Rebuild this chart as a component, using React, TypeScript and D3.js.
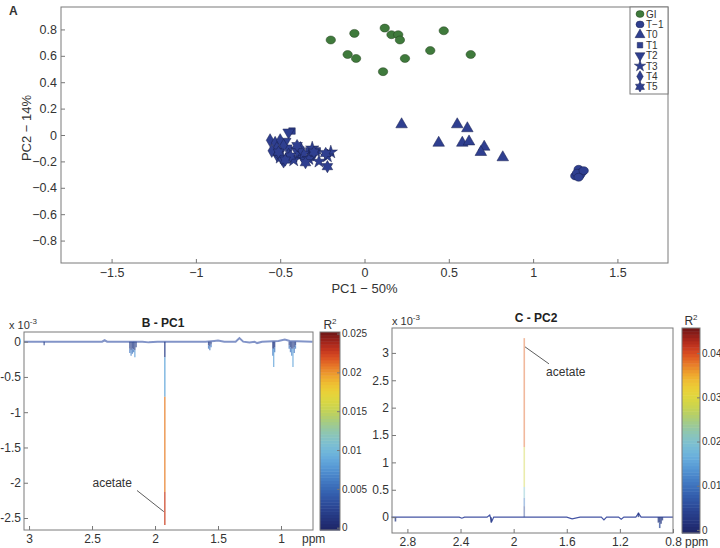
import { useEffect, useRef } from 'react';
import * as d3 from 'd3';

const W = 720;
const H = 548;
const FONT = '"Liberation Sans", Arial, Helvetica, sans-serif';

// ---- panel A: PCA scores (PC1, PC2) ----
const gi: [number, number][] = [
  [-0.2, 0.72], [-0.06, 0.77], [-0.1, 0.61], [-0.05, 0.58], [0.12, 0.81], [0.16, 0.76],
  [0.2, 0.76], [0.21, 0.72], [0.47, 0.79], [0.39, 0.64], [0.63, 0.61], [0.24, 0.58], [0.11, 0.48],
];
const tMinus1: [number, number][] = [
  [1.25, -0.31], [1.27, -0.26], [1.29, -0.28], [1.28, -0.3], [1.26, -0.29], [1.3, -0.27], [1.27, -0.32],
];
const t0: [number, number][] = [
  [0.22, 0.08], [0.55, 0.08], [0.61, 0.05], [0.44, -0.06], [0.58, -0.06], [0.62, -0.05],
  [0.71, -0.09], [0.69, -0.13], [0.82, -0.17],
];
const t1: [number, number][] = [
  [-0.43, 0.03], [-0.28, -0.12], [-0.35, -0.2], [-0.32, -0.17], [-0.45, -0.1], [-0.38, -0.15],
  [-0.5, -0.12], [-0.42, -0.18], [-0.33, -0.12],
];
const t2: [number, number][] = [
  [-0.45, 0.02], [-0.47, -0.05], [-0.52, -0.15], [-0.4, -0.12], [-0.36, -0.18], [-0.48, -0.2], [-0.3, -0.14],
];
const t3: [number, number][] = [
  [-0.2, -0.13], [-0.22, -0.16], [-0.31, -0.1], [-0.36, -0.14], [-0.27, -0.2], [-0.33, -0.18],
  [-0.5, -0.17], [-0.42, -0.19],
];
const t4: [number, number][] = [
  [-0.56, -0.04], [-0.53, -0.06], [-0.5, -0.04], [-0.52, -0.1], [-0.48, -0.08], [-0.45, -0.15],
  [-0.55, -0.12], [-0.49, -0.18], [-0.38, -0.1],
];
const t5: [number, number][] = [
  [-0.22, -0.24], [-0.23, -0.14], [-0.51, -0.13], [-0.4, -0.08], [-0.44, -0.16], [-0.35, -0.21],
  [-0.3, -0.13], [-0.47, -0.19],
];
const groupLabels = ['GI', 'T\u22121', 'T0', 'T1', 'T2', 'T3', 'T4', 'T5'];
const groupPoints = [gi, tMinus1, t0, t1, t2, t3, t4, t5];

const aXTicks = [-1.5, -1, -0.5, 0, 0.5, 1, 1.5];
const aYTicks = [-0.8, -0.6, -0.4, -0.2, 0, 0.2, 0.4, 0.6, 0.8];

// ---- panel B: PC1 loadings (x 10^-3) ----
const baseBPpm = [3.04, 2.42, 2.4, 2.38, 2.1, 2.05, 1.98, 1.75, 1.6, 1.53, 1.5, 1.45, 1.36, 1.33, 1.3, 1.25, 1.21, 1.19, 1.15, 1.02, 0.97, 0.93, 0.75];
const baseBVal = [0, 0, 0.02, 0, 0, -0.01, 0, 0, 0, 0.01, 0.015, 0, 0, 0.05, 0, -0.01, 0, -0.02, 0, 0.01, 0.03, 0.01, 0];
// stems: ppm, levels going away from baseline, r2 of each segment
const stemsB = [
  { ppm: 2.88, levels: [0, -0.05], r2: [0.002] },
  { ppm: 2.2, levels: [0, -0.1, -0.16], r2: [0.002, 0.006] },
  { ppm: 2.19, levels: [0, -0.12, -0.2], r2: [0.002, 0.007] },
  { ppm: 2.18, levels: [0, -0.1, -0.17], r2: [0.002, 0.006] },
  { ppm: 2.17, levels: [0, -0.11, -0.15], r2: [0.002, 0.006] },
  { ppm: 2.16, levels: [0, -0.12, -0.22], r2: [0.002, 0.008] },
  { ppm: 2.15, levels: [0, -0.08], r2: [0.002] },
  { ppm: 1.575, levels: [0, -0.05, -0.1], r2: [0.002, 0.006] },
  { ppm: 1.565, levels: [0, -0.06, -0.12], r2: [0.002, 0.006] },
  { ppm: 1.555, levels: [0, -0.04, -0.08], r2: [0.002, 0.006] },
  { ppm: 1.065, levels: [0, -0.1, -0.2], r2: [0.002, 0.006] },
  { ppm: 1.058, levels: [0, -0.1, -0.36], r2: [0.002, 0.0085] },
  { ppm: 1.05, levels: [0, -0.08, -0.15], r2: [0.002, 0.006] },
  { ppm: 0.935, levels: [0, -0.05, -0.1], r2: [0.002, 0.006] },
  { ppm: 0.925, levels: [0, -0.08, -0.15], r2: [0.002, 0.006] },
  { ppm: 0.915, levels: [0, -0.1, -0.2], r2: [0.002, 0.007] },
  { ppm: 0.905, levels: [0, -0.1, -0.36], r2: [0.002, 0.0085] },
  { ppm: 0.895, levels: [0, -0.08, -0.16], r2: [0.002, 0.006] },
  { ppm: 0.885, levels: [0, -0.05, -0.1], r2: [0.002, 0.006] },
  { ppm: 1.922, levels: [0, -0.22, -0.78, -2.13, -2.6], r2: [0.002, 0.0088, 0.0205, 0.0228] },
];
const bXTicks = [3, 2.5, 2, 1.5, 1];
const bYTicks = [0, -0.5, -1, -1.5, -2, -2.5];
const bBarTicks = [0, 0.005, 0.01, 0.015, 0.02, 0.025];
// label ppm, label value, line start ppm/value, line end ppm/value
const annotB = [2.34, -2.06, 2.143, -2.11, 1.93, -2.41];

// ---- panel C: PC2 loadings (x 10^-3) ----
const baseCPpm = [2.92, 2.41, 2.39, 2.37, 2.2, 2.18, 2.165, 2.15, 2.1, 1.6, 1.56, 1.5, 1.34, 1.32, 1.3, 1.21, 1.19, 1.17, 1.08, 1.06, 1.04, 0.95, 0.8];
const baseCVal = [0, 0, -0.02, 0, 0, 0.04, -0.08, 0, 0, 0, -0.03, 0, 0, -0.05, 0, 0, -0.04, 0, 0, 0.07, 0, 0, 0];
const stemsC = [
  { ppm: 2.89, levels: [0, -0.08], r2: [0.003] },
  { ppm: 2.17, levels: [0, -0.1], r2: [0.003] },
  { ppm: 1.06, levels: [0, 0.08], r2: [0.003] },
  { ppm: 0.91, levels: [0, -0.1], r2: [0.003] },
  { ppm: 0.9, levels: [0, -0.1, -0.2], r2: [0.003, 0.006] },
  { ppm: 0.89, levels: [0, -0.12], r2: [0.003] },
  { ppm: 0.88, levels: [0, -0.06], r2: [0.003] },
  { ppm: 1.92, levels: [0, 0.2, 0.35, 0.55, 1.28, 3.27], r2: [0.005, 0.012, 0.02, 0.029, 0.039] },
];
const cXTicks = [2.8, 2.4, 2, 1.6, 1.2, 0.8];
const cYTicks = [0, 0.5, 1, 1.5, 2, 2.5, 3];
const cBarTicks = [0, 0.01, 0.02, 0.03, 0.04];
const annotC = [1.756, 2.58, 1.914, 3.11, 1.734, 2.8];

const jetStops = ['#1e2566', '#283f8e', '#3564b4', '#4f90d2', '#74bde4', '#8cc6b4', '#c2d24c', '#f2de36', '#ee962c', '#d8301f', '#6e1616'];
const cmap = d3.interpolateRgbBasis(jetStops);
const N_BANDS = 64;
const band = (t: number) => cmap((Math.min(N_BANDS - 1, Math.floor(Math.max(0, t) * N_BANDS)) + 0.5) / N_BANDS);

const BLUE = '#2f3f90';
const GREEN = '#3f7a3c';

const hexagram = {
  draw(ctx: any, size: number) {
    const r = Math.sqrt(size / 1.6);
    const ri = r * 0.58;
    for (let i = 0; i < 12; i++) {
      const a = (i * Math.PI) / 6;
      const rad = i % 2 ? ri : r;
      const px = rad * Math.sin(a);
      const py = -rad * Math.cos(a);
      if (i === 0) ctx.moveTo(px, py);
      else ctx.lineTo(px, py);
    }
    ctx.closePath();
  },
};

function styleAxis(ax: any, fs: number) {
  ax.select('.domain').remove();
  ax.attr('font-family', FONT).attr('font-size', fs);
  ax.selectAll('line').attr('stroke', '#777');
  ax.selectAll('text').attr('fill', '#333');
}

const fmt = (d: any) => d3.format('~g')(d);
// MATLAB style hyphen for the spectra
const fmtH = (d: any) => d3.format('~g')(d).replace('\u2212', '-');

export default function App() {
  const svgRef = useRef<SVGSVGElement>(null);

  useEffect(() => {
    if (!svgRef.current) return;
    const svg = d3.select(svgRef.current);
    svg.selectAll('*').remove();

    // ================= Panel A =================
    const boxA = { l: 61, t: 7, r: 668, b: 263 };
    const xA = d3.scaleLinear().domain([-1.8, 1.8]).range([boxA.l, boxA.r]);
    const yA = d3.scaleLinear().domain([-0.97, 0.97]).range([boxA.b, boxA.t]);
    const gA = svg.append('g');

    const symTypes: any[] = [null, null, d3.symbolTriangle, d3.symbolSquare, d3.symbolTriangle, d3.symbolStar, d3.symbolDiamond, hexagram];
    const symSizes = [0, 0, 58, 42, 58, 55, 50, 60];
    const drawMarker = (g: any, gi_: number, x: number, y: number, k: number) => {
      const fill = gi_ === 0 ? GREEN : BLUE;
      const stroke = gi_ === 0 ? '#24421f' : '#18204e';
      if (gi_ <= 1) {
        g.append('ellipse').attr('cx', x).attr('cy', y).attr('rx', 4.7 * k).attr('ry', 4 * k)
          .attr('fill', fill).attr('stroke', stroke).attr('stroke-width', 0.5);
      } else {
        g.append('path')
          .attr('d', d3.symbol().type(symTypes[gi_]).size(symSizes[gi_] * k * k)())
          .attr('transform', `translate(${x},${y})${gi_ === 4 ? ' rotate(180)' : ''}`)
          .attr('fill', fill).attr('stroke', stroke).attr('stroke-width', 0.5);
      }
    };

    groupPoints.forEach((pts, i) => {
      pts.forEach(([px, py]) => drawMarker(gA, i, xA(px), yA(py), 1));
    });

    const axA = gA.append('g').attr('transform', `translate(0,${boxA.b})`)
      .call(d3.axisBottom(xA).tickValues(aXTicks).tickSizeInner(-4).tickSizeOuter(0).tickPadding(5).tickFormat(fmt));
    styleAxis(axA, 12.5);
    const ayA = gA.append('g').attr('transform', `translate(${boxA.l},0)`)
      .call(d3.axisLeft(yA).tickValues(aYTicks).tickSizeInner(-4).tickSizeOuter(0).tickPadding(4).tickFormat(fmt));
    styleAxis(ayA, 12.5);
    gA.append('rect').attr('x', boxA.l).attr('y', boxA.t).attr('width', boxA.r - boxA.l).attr('height', boxA.b - boxA.t)
      .attr('fill', 'none').attr('stroke', '#7a7a7a');

    gA.append('text').attr('x', xA(0)).attr('y', 293).attr('text-anchor', 'middle')
      .attr('font-family', FONT).attr('font-size', 13).attr('fill', '#333').text('PC1 \u2212 50%');
    gA.append('text').attr('transform', `translate(31,128) rotate(-90)`).attr('text-anchor', 'middle')
      .attr('font-family', FONT).attr('font-size', 13).attr('fill', '#333').text('PC2 \u2212 14%');
    gA.append('text').attr('x', 9).attr('y', 15).attr('font-family', FONT).attr('font-size', 12)
      .attr('font-weight', 'bold').attr('fill', '#333').text('A');

    // legend
    const lg = gA.append('g');
    lg.append('rect').attr('x', 630).attr('y', boxA.t).attr('width', boxA.r - 630).attr('height', 87)
      .attr('fill', 'white').attr('stroke', '#7a7a7a');
    groupLabels.forEach((lab, i) => {
      const yy = 14 + i * 10.4;
      drawMarker(lg, i, 640, yy, 0.85);
      lg.append('text').attr('x', 646).attr('y', yy + 3.5).attr('font-family', FONT).attr('font-size', 10)
        .attr('fill', '#333').text(lab);
    });

    // ================= spectra =================
    const drawSpectrum = (cfg: any) => {
      const { box } = cfg;
      const g = svg.append('g');
      const x = d3.scaleLinear().domain(cfg.xDomain).range([box.l, box.r]);
      const y = d3.scaleLinear().domain(cfg.yDomain).range([box.b, box.t]);
      const cb = d3.scaleLinear().domain([cfg.r2Min, cfg.r2Max]).range([box.b, box.t]);
      const colorOf = (v: number) => band(v / cfg.r2Max);

      // baseline
      const line = d3.line<number>().x((_, i) => x(cfg.basePpm[i])).y((d) => y(d));
      g.append('path').datum(cfg.baseVal).attr('d', line).attr('fill', 'none')
        .attr('stroke', cfg.baseColor).attr('stroke-width', cfg.baseWidth);

      // stems coloured by R2
      cfg.stems.forEach((s: any) => {
        s.r2.forEach((r: number, i: number) => {
          g.append('line').attr('x1', x(s.ppm)).attr('x2', x(s.ppm))
            .attr('y1', y(s.levels[i])).attr('y2', y(s.levels[i + 1]))
            .attr('stroke', colorOf(r)).attr('stroke-width', cfg.stemWidth)
            .attr('stroke-opacity', s.levels.length > 3 ? cfg.stemOpacity : 0.75);
        });
      });

      // annotation
      const a = cfg.annot;
      g.append('line').attr('x1', x(a[2])).attr('y1', y(a[3])).attr('x2', x(a[4])).attr('y2', y(a[5]))
        .attr('stroke', '#333').attr('stroke-width', 0.8);
      g.append('text').attr('x', x(a[0])).attr('y', y(a[1])).attr('text-anchor', cfg.annotAnchor)
        .attr('font-family', FONT).attr('font-size', 12).attr('fill', '#333').text('acetate');

      const ax = g.append('g').attr('transform', `translate(0,${box.b})`)
        .call(d3.axisBottom(x).tickValues(cfg.xTicks).tickSizeInner(-4).tickSizeOuter(0).tickPadding(4).tickFormat(fmtH));
      styleAxis(ax, 12);
      const ay = g.append('g').attr('transform', `translate(${box.l},0)`)
        .call(d3.axisLeft(y).tickValues(cfg.yTicks).tickSizeInner(-4).tickSizeOuter(0).tickPadding(3).tickFormat(fmtH));
      styleAxis(ay, 12);
      g.append('rect').attr('x', box.l).attr('y', box.t).attr('width', box.r - box.l).attr('height', box.b - box.t)
        .attr('fill', 'none').attr('stroke', '#7a7a7a');

      // exponent
      const ex = g.append('text').attr('x', cfg.expX).attr('y', box.t - 3).attr('font-family', FONT)
        .attr('font-size', 11).attr('fill', '#333');
      ex.append('tspan').text('x 10');
      ex.append('tspan').attr('dy', -5).attr('font-size', 8).text('-3');

      g.append('text').attr('x', cfg.titleX).attr('y', cfg.titleY).attr('text-anchor', 'middle')
        .attr('font-family', FONT).attr('font-size', 12).attr('font-weight', 'bold').attr('fill', '#222').text(cfg.title);
      g.append('text').attr('x', box.r + cfg.ppmDx).attr('y', cfg.ppmY).attr('font-family', FONT)
        .attr('font-size', 12).attr('fill', '#333').text('ppm');

      // colorbar (banded, covering the whole bar range)
      const bars = d3.range(N_BANDS);
      const span = cfg.r2Max - cfg.r2Min;
      const bw = span / N_BANDS;
      g.append('g').selectAll('rect').data(bars).join('rect')
        .attr('x', cfg.cbL).attr('width', cfg.cbR - cfg.cbL)
        .attr('y', (d) => cb(cfg.r2Min + (d + 1) * bw))
        .attr('height', (d) => cb(cfg.r2Min + d * bw) - cb(cfg.r2Min + (d + 1) * bw) + 0.5)
        .attr('fill', (d) => cmap((d + 0.5) / N_BANDS));
      g.append('rect').attr('x', cfg.cbL).attr('y', box.t).attr('width', cfg.cbR - cfg.cbL).attr('height', box.b - box.t)
        .attr('fill', 'none').attr('stroke', '#7a7a7a');
      const ac = g.append('g').attr('transform', `translate(${cfg.cbR},0)`)
        .call(d3.axisRight(cb).tickValues(cfg.barTicks).tickSizeInner(-3).tickSizeOuter(0).tickPadding(2).tickFormat(fmt));
      styleAxis(ac, 10);
      const r2t = g.append('text').attr('x', (cfg.cbL + cfg.cbR) / 2).attr('y', box.t - 3).attr('text-anchor', 'middle')
        .attr('font-family', FONT).attr('font-size', 12).attr('fill', '#333');
      r2t.append('tspan').text('R');
      r2t.append('tspan').attr('dy', -5).attr('font-size', 8).text('2');
    };

    drawSpectrum({
      box: { l: 24, t: 332, r: 313, b: 530 },
      xDomain: [3.04, 0.746], yDomain: [-2.67, 0.137],
      basePpm: baseBPpm, baseVal: baseBVal, baseColor: '#8294c8', baseWidth: 2,
      stems: stemsB, stemWidth: 1.3, stemOpacity: 0.9, r2Min: -0.0003, r2Max: 0.0252,
      xTicks: bXTicks, yTicks: bYTicks, barTicks: bBarTicks,
      annot: annotB, annotAnchor: 'middle', expX: 9, title: 'B - PC1', titleX: 163, titleY: 327,
      ppmDx: -11, ppmY: 543, cbL: 320, cbR: 340,
    });
    drawSpectrum({
      box: { l: 392, t: 328, r: 673, b: 533 },
      xDomain: [2.916, 0.8], yDomain: [-0.29, 3.455],
      basePpm: baseCPpm, baseVal: baseCVal, baseColor: '#4454a4', baseWidth: 1.2,
      stems: stemsC, stemWidth: 1.6, stemOpacity: 0.45, r2Min: -0.0007, r2Max: 0.0457,
      xTicks: cXTicks, yTicks: cYTicks, barTicks: cBarTicks,
      annot: annotC, annotAnchor: 'start', expX: 392, title: 'C - PC2', titleX: 536, titleY: 322,
      ppmDx: 12, ppmY: 546, cbL: 682, cbR: 700,
    });
  }, []);

  return (
    <svg ref={svgRef} width={W} height={H}
      style={{ position: 'absolute', left: 0, top: 0, background: 'white' }} />
  );
}
